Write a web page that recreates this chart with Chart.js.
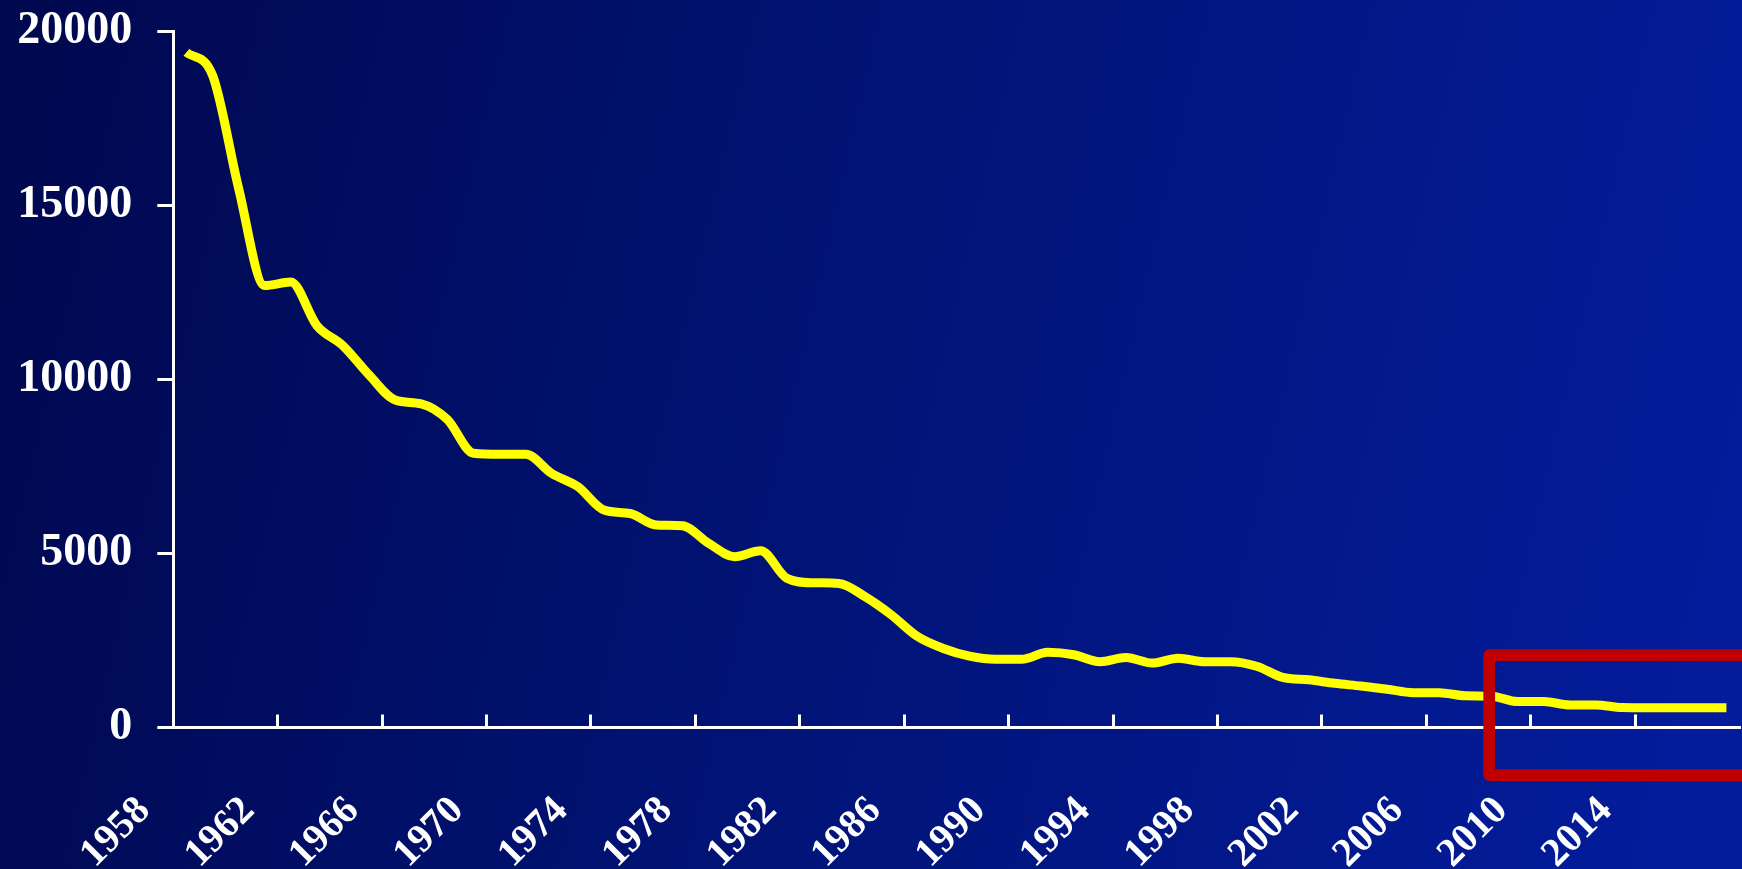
<!DOCTYPE html>
<html><head><meta charset="utf-8">
<script src="https://cdn.jsdelivr.net/npm/chart.js@4/dist/chart.umd.min.js"></script>
<style>html,body{margin:0;padding:0;background:#010c60;overflow:hidden}canvas{display:block}</style>
</head><body>
<canvas id="c" width="1742" height="869"></canvas>
<script>
const years = [1958,1959,1960,1961,1962,1963,1964,1965,1966,1967,1968,1969,1970,1971,1972,1973,1974,1975,1976,1977,1978,1979,1980,1981,1982,1983,1984,1985,1986,1987,1988,1989,1990,1991,1992,1993,1994,1995,1996,1997,1998,1999,2000,2001,2002,2003,2004,2005,2006,2007,2008,2009,2010,2011,2012,2013,2014,2015,2016,2017];
const values = [19400,18750,15500,12700,12800,11550,10970,10130,9410,9300,8850,7880,7850,7850,7300,6920,6250,6150,5820,5800,5300,4910,5080,4290,4160,4140,3760,3240,2620,2270,2050,1960,1960,2160,2090,1890,2010,1850,1990,1890,1890,1760,1440,1370,1270,1190,1100,1000,1000,910,900,745,745,650,650,575,570,570,570,570];
const xTickYears = [1958,1962,1966,1970,1974,1978,1982,1986,1990,1994,1998,2002,2006,2010,2014];
const yTickValues = [0,5000,10000,15000,20000];

const bgPlugin = {
  id: 'bg',
  beforeDraw(chart) {
    const {ctx, width, height} = chart;
    const g = ctx.createLinearGradient(0, 250, width, 650);
    g.addColorStop(0, '#000850');
    g.addColorStop(0.5, '#011478');
    g.addColorStop(1, '#041c9c');
    ctx.save();
    ctx.fillStyle = g;
    ctx.fillRect(0, 0, width, height);
    ctx.restore();
  }
};
const boxPlugin = {
  id: 'box',
  afterDraw(chart) {
    const ctx = chart.ctx;
    ctx.save();
    ctx.strokeStyle = '#C00000';
    ctx.lineWidth = 11.7;
    ctx.lineJoin = 'round';
    ctx.strokeRect(1489.2, 655.2, 270, 120);
    ctx.restore();
  }
};

new Chart(document.getElementById('c'), {
  type: 'line',
  data: {
    datasets: [{
      data: years.map((y, i) => ({x: y + 0.5, y: values[i]})),
      borderColor: '#FFFF00',
      borderWidth: 9,
      borderCapStyle: 'butt',
      borderJoinStyle: 'round',
      cubicInterpolationMode: 'monotone',
      pointRadius: 0,
      fill: false
    }]
  },
  options: {
    animation: false,
    responsive: false,
    devicePixelRatio: 1,
    layout: {padding: {top: 31.5, left: 0, right: 0, bottom: 0}},
    plugins: {legend: {display: false}, tooltip: {enabled: false}},
    scales: {
      x: {
        type: 'linear', min: 1958, max: 2018,
        afterBuildTicks(s) { s.ticks = xTickYears.map(v => ({value: v})); },
        afterFit(s) { s.height = 141.5; },
        border: {display: true, color: '#ffffff', width: 3},
        grid: {drawOnChartArea: false, color: '#ffffff', lineWidth: 3, tickLength: -13},
        ticks: {
          color: '#ffffff', autoSkip: false, minRotation: 45, maxRotation: 45,
          labelOffset: -29, padding: 73,
          font: {family: 'Liberation Serif', weight: 'bold', size: 40},
          callback: v => String(v)
        }
      },
      y: {
        min: 0, max: 20000,
        afterBuildTicks(s) { s.ticks = yTickValues.map(v => ({value: v})); },
        afterFit(s) { s.width = 173.3; s.paddingTop = 0; s.paddingBottom = 0; },
        border: {display: true, color: '#ffffff', width: 3},
        grid: {drawOnChartArea: false, color: '#ffffff', lineWidth: 3, tickLength: 16},
        ticks: {
          color: '#ffffff', padding: 25,
          font: {family: 'Liberation Serif', weight: 'bold', size: 46},
          callback: v => String(v)
        }
      }
    }
  },
  plugins: [bgPlugin, boxPlugin]
});
</script>
</body></html>
